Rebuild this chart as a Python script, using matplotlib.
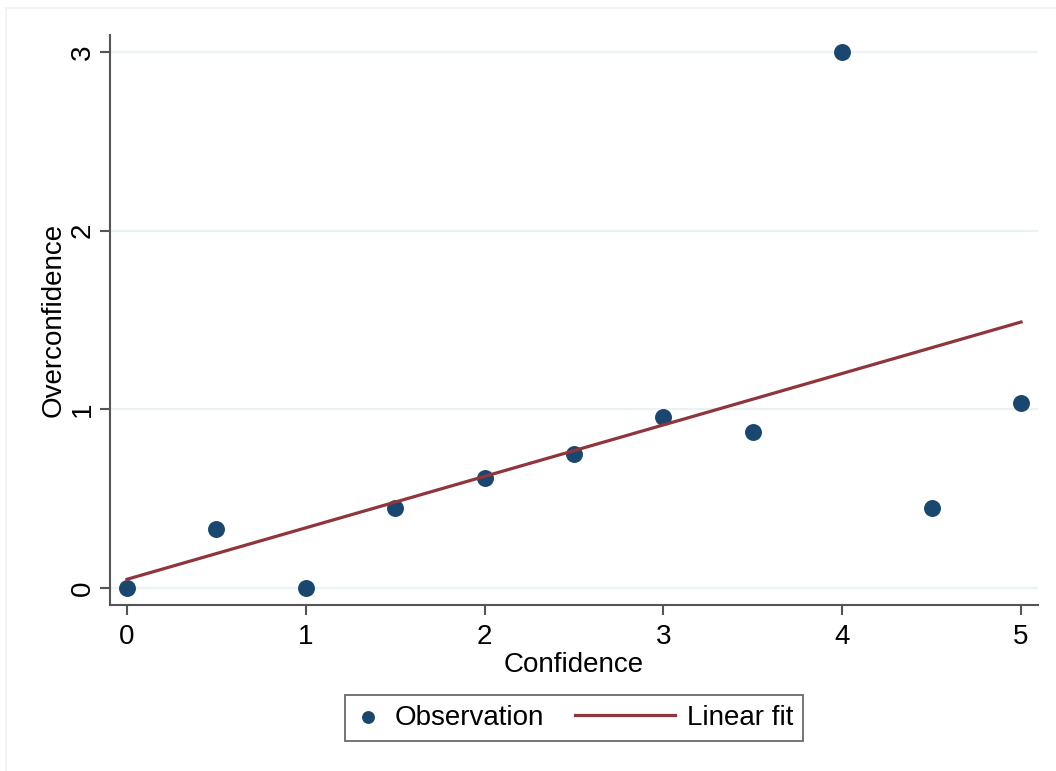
import numpy as np
import matplotlib.pyplot as plt
from matplotlib.patches import Rectangle
from matplotlib.legend_handler import HandlerLine2D

plt.rcParams['font.family'] = ['Liberation Sans', 'DejaVu Sans']

# data
confidence = [0, 0.5, 1, 1.5, 2, 2.5, 3, 3.5, 4, 4.5, 5]
overconfidence = [0, 0.33, 0, 0.448, 0.616, 0.75, 0.957, 0.873, 3.0, 0.448, 1.035]
x_ticks = [0, 1, 2, 3, 4, 5]
y_ticks = [0, 1, 2, 3]

navy = '#1a476f'
maroon = '#90353b'
FS = 20


class LongLine(HandlerLine2D):
    # draw the fit line longer than the (short) handle box, reaching to the left
    def create_artists(self, legend, orig_handle, xdescent, ydescent,
                       width, height, fontsize, trans):
        extra = 2.6 * fontsize
        return super().create_artists(legend, orig_handle, xdescent + extra,
                                      ydescent, width + extra, height,
                                      fontsize, trans)


fig = plt.figure(figsize=(10.56, 7.71), dpi=100)
# faint outer graph region border
fig.patches.append(Rectangle((6 / 1056, -0.1), 1.2, 1 - 8 / 771 + 0.1,
                             transform=fig.transFigure, fill=False,
                             edgecolor='#f0f0f0', linewidth=1.2))

ax = fig.add_axes([110 / 1056, 166 / 771, 928 / 1056, 570 / 771])

slope, intercept = np.polyfit(confidence, overconfidence, 1)
xs = np.array([min(confidence), max(confidence)])

ax.scatter(confidence, overconfidence, s=12.2 ** 2, color=navy, zorder=3,
           label='Observation', linewidths=0)
fit_line, = ax.plot(xs, intercept + slope * xs, color=maroon, linewidth=2.3,
                    zorder=4, label='Linear fit')

ax.set_xlim(-0.095, 5.095)
ax.set_ylim(-0.095, 3.095)
ax.set_xticks(x_ticks)
ax.set_yticks(y_ticks)
ax.grid(axis='y', color='#eaf2f3', linewidth=1.6)
ax.set_axisbelow(True)

for side in ['top', 'right']:
    ax.spines[side].set_visible(False)
for side in ['left', 'bottom']:
    ax.spines[side].set_color('#555555')
    ax.spines[side].set_linewidth(1.5)

ax.tick_params(axis='both', length=7, width=1.5, color='#555555',
               labelsize=FS, pad=7)
ax.tick_params(axis='y', pad=3)
for lab in ax.get_yticklabels():
    lab.set_rotation(90)
    lab.set_va('center')

ax.set_xlabel('Confidence', fontsize=FS, labelpad=1)
ax.set_ylabel('Overconfidence', fontsize=FS)
ax.yaxis.set_label_coords(-0.0466, 0.5)

leg = ax.legend(loc='upper center', bbox_to_anchor=(0.5, -0.158), ncol=2,
                fontsize=FS, frameon=True, fancybox=False, edgecolor='#444444',
                handlelength=1.0, columnspacing=3.7, handletextpad=0.45,
                markerscale=0.76, borderpad=0.35, borderaxespad=0,
                handler_map={fit_line: LongLine()})
leg.get_frame().set_linewidth(1.3)

plt.savefig('out.png', dpi=100)
